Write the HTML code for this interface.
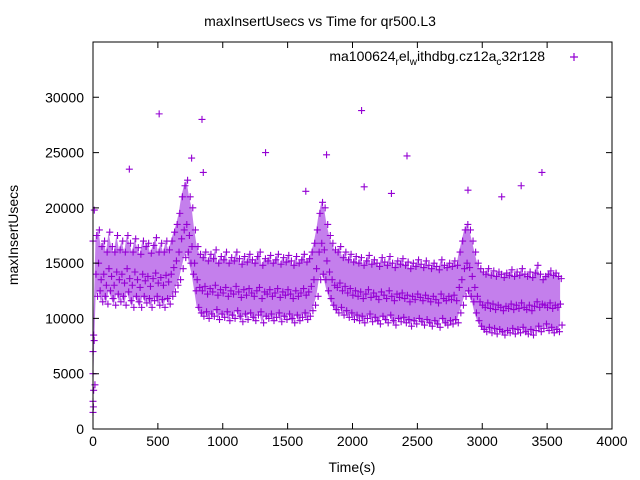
<!DOCTYPE html>
<html><head><meta charset="utf-8"><style>
html,body{margin:0;padding:0;background:#fff}
svg{display:block;font-family:"Liberation Sans",sans-serif}
</style></head><body>
<svg id="chart" width="640" height="480">
<text x="320" y="26" font-size="14" text-anchor="middle">maxInsertUsecs vs Time for qr500.L3</text>
<text transform="translate(18,235) rotate(-90)" font-size="14" text-anchor="middle">maxInsertUsecs</text>
<text x="352" y="472" font-size="14" text-anchor="middle">Time(s)</text>
<g id="area"></g>
<rect x="93" y="42" width="519" height="387" fill="none" stroke="#000" stroke-width="1"/>
<g id="axes"></g>
<g>
<text x="545" y="61" font-size="14" text-anchor="end">ma100624<tspan font-size="10" dy="4">r</tspan><tspan dy="-4">el</tspan><tspan font-size="10" dy="4">w</tspan><tspan dy="-4">ithdbg.cz12a</tspan><tspan font-size="10" dy="4">c</tspan><tspan dy="-4">32r128</tspan></text>
<path d="M570 57h8M574 53v8" stroke="#9400d3" stroke-width="1.2"/>
</g>
</svg>
<script>
const xTicks=[0,500,1000,1500,2000,2500,3000,3500,4000];
const yTicks=[0,5000,10000,15000,20000,25000,30000];
const tEnd=3600;
const midK=[2,14,15,13.5,14,13,14.5,13.8,13,14.2,13.5,14,13.2,14.5,13.6,13,14.2,13.5,12.8,14,13.4,13.8,12.9,13.6,14.1,13.2,13.7,13,13.9,13.3,14,14.6,15.2,16,17.2,18,18.5,17.5,16.5,15,13.5,12.8,12.5,12.9,12.2,12.7,12.4,13,12.1,12.6,12.3,12.8,12,12.5,12.2,12.9,12.4,11.9,12.6,12.1,12.7,12.3,12,12.5,12.8,11.8,12.4,12.2,12.6,12,12.3,12.7,11.9,12.4,12.1,12.6,12.2,11.8,12.5,12,12.3,12.7,12.1,12.4,12.9,13.5,14.5,16,16.8,16.2,15.2,14.2,13.5,13,12.8,13.2,12.5,12.9,12.3,12.7,12.1,12.5,12,12.4,11.8,12.2,12.6,11.9,12.3,12,11.7,12.4,12.1,11.8,12.5,12,11.6,12.2,11.9,12.3,11.8,12.1,11.5,12,11.7,12.2,11.9,11.6,12.1,11.8,11.5,12,11.7,11.4,12.2,11.8,11.6,12,11.7,12.1,11.6,12.8,13.5,14.5,15,14.6,13.8,12.8,12,11.5,11.2,11,11.4,10.9,11.3,10.8,11.2,11,10.7,11.1,10.9,11.3,10.8,11.2,10.9,11.4,11,10.8,11.2,10.7,11.1,11.5,11,11.3,11.2,11,11.4,10.9,11.2,11,11.3];
const hiK=[8,17.5,18,16.5,17,16,17.8,16.5,16,17.5,16.2,17,16,17.5,16.8,16,17.2,16.4,15.8,17,16.5,16.8,15.9,16.6,17.3,16,16.8,16,17,16.2,17,17.8,18.5,19.5,21,22,22.5,21,20,18,16.5,15.8,15.5,16,15.2,15.8,15.4,16.2,15,15.6,15.3,16,15,15.5,15.2,16,15.4,14.9,15.6,15.1,15.8,15.3,15,15.6,16,14.8,15.4,15.2,15.7,15,15.3,15.8,14.9,15.5,15.1,15.7,15.2,14.8,15.6,15,15.3,15.8,15.1,15.4,16,16.8,18,19.5,20.5,20,18.5,17.5,16.8,16.2,16,16.5,15.5,16,15.3,15.8,15.1,15.6,15,15.5,14.8,15.2,15.7,14.9,15.3,15,14.7,15.5,15.1,14.8,15.6,15,14.6,15.2,14.9,15.4,14.8,15.1,14.5,15,14.7,15.3,14.9,14.6,15.2,14.8,14.5,15,14.7,14.4,15.3,14.8,14.6,15,14.7,15.2,14.8,16,17,18,18.5,18,17,16,15,14.5,14.2,14,14.5,13.9,14.3,13.8,14.2,14,13.7,14.1,13.9,14.4,13.8,14.2,13.9,14.5,14,13.8,14.2,13.7,14.1,14.8,14,13.5,13.8,14,14.3,13.9,14.1,13.8,13.6];
const loK=[4,12,12.5,11.5,12,11.3,12.5,11.8,11.2,12.2,11.5,12,11.2,12.4,11.6,11,12,11.5,11,12,11.4,11.8,11,11.6,12,11.2,11.7,11,11.8,11.3,12,12.4,13,13.5,14.5,15.5,16,15,14,12.5,11,10.5,10.2,10.6,10,10.4,10.2,10.8,9.9,10.4,10.1,10.6,9.8,10.3,10,10.7,10.2,9.7,10.4,9.9,10.5,10.1,9.8,10.3,10.6,9.6,10.2,10,10.4,9.8,10.1,10.5,9.7,10.2,9.9,10.4,10,9.6,10.3,9.8,10.1,10.5,9.9,10.2,10.7,11.2,12,13.5,14,13.5,12.5,11.8,11.2,10.8,10.5,11,10.3,10.7,10.1,10.5,9.9,10.3,9.8,10.2,9.6,10,10.4,9.7,10.1,9.8,9.5,10.2,9.9,9.6,10.3,9.8,9.4,10,9.7,10.1,9.6,9.9,9.3,9.8,9.5,10,9.7,9.4,9.9,9.6,9.3,9.8,9.5,9.2,10,9.6,9.4,9.8,9.5,9.9,9.6,10.5,11.2,12,12.5,12,11.5,10.5,9.8,9.3,9,8.8,9.2,8.7,9.1,8.6,9,8.8,8.5,8.9,8.7,9.1,8.6,9,8.7,9.2,8.8,8.6,9,8.5,8.9,9.3,8.8,9.1,9.5,8.9,9.2,8.7,9,8.8,9.4];
const outT=[510,840,2070,1330,1800,2420,280,3460,760,2090,2890,3150,2300,1640,3300,850,0,0,0,0,0,10,5,5];
const outV=[28500,28000,28800,25000,24800,24700,23500,23200,24500,21900,21600,21000,21300,21500,22000,23200,1500,2500,5000,7000,17000,19800,3500,8500];

const NS='http://www.w3.org/2000/svg';
const X0=93,X1=612,Y0=429,Y1=42,XMAX=4000,YMAX=35000;
const xs=t=>X0+t/XMAX*(X1-X0);
const ys=v=>Y0-v/YMAX*(Y0-Y1);
const area=document.getElementById('area');
const axes=document.getElementById('axes');
function mk(tag,attrs,parent){const e=document.createElementNS(NS,tag);for(const k in attrs)e.setAttribute(k,attrs[k]);parent.appendChild(e);return e;}

xTicks.forEach(t=>{
  const x=xs(t);
  const l=mk('path',{d:`M${x} ${Y0}v-6M${x} ${Y1}v6`,stroke:'#000','stroke-width':1},axes);
  
  
  const tx=mk('text',{x:x,y:Y0+17,'font-size':14,'text-anchor':'middle'},axes);
  tx.textContent=t;
  
  
});
yTicks.forEach(v=>{
  const y=ys(v);
  const l=mk('path',{d:`M${X0} ${y}h6M${X1} ${y}h-6`,stroke:'#000','stroke-width':1},axes);
  
  
  const tx=mk('text',{x:X0-9,y:y+5,'font-size':14,'text-anchor':'end'},axes);
  tx.textContent=v;
  
  
});

function tAt(i,arr){return i*tEnd/(arr.length-1);}
let d='';
hiK.forEach((v,i)=>{d+=(i?'L':'M')+xs(tAt(i,hiK))+' '+ys(v*1000);});
for(let i=loK.length-1;i>=0;i--)d+='L'+xs(tAt(i,loK))+' '+ys(loK[i]*1000);
const band=mk('path',{d:d+'Z',fill:'#a030e0','fill-opacity':0.62},area);



function cross(t,v,name){
  const x=xs(t),y=ys(v);
  const p=mk('path',{d:`M${x-3.5} ${y}h7M${x} ${y-3.5}v7`,stroke:'#9400d3','stroke-width':1.1},area);
  
  
}
midK.forEach((v,i)=>cross(tAt(i,midK)+3,v*1000,'point'));
hiK.forEach((v,i)=>cross(tAt(i,hiK)+9,v*1000,'point'));
loK.forEach((v,i)=>cross(tAt(i,loK)+15,v*1000,'point'));
outT.forEach((t,i)=>cross(t,outV[i],'outlier-point'));
</script>
</body></html>
